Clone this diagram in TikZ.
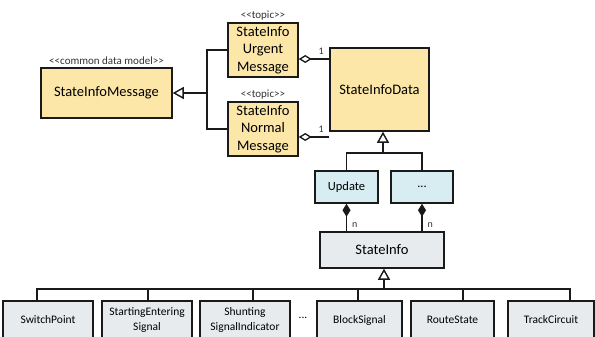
\documentclass[tikz,border=0pt]{standalone}
\usepackage{fontspec}
\setmainfont{Carlito}
\usetikzlibrary{arrows.meta}
\definecolor{classyellow}{HTML}{FCE6A8}
\definecolor{classblue}{HTML}{D8EDF1}
\definecolor{classgray}{HTML}{E8EBEE}
\definecolor{linegray}{HTML}{1A1A1A}
\tikzset{
  classbox/.style={draw=linegray, line width=1.5pt, inner sep=0pt, align=center},
  yellowbox/.style={classbox, fill=classyellow},
  bluebox/.style={classbox, fill=classblue},
  graybox/.style={classbox, fill=classgray},
  link/.style={draw=linegray, line width=1.4pt},
  stereo/.style={font=\fontsize{11}{12}\selectfont, text=black!80, inner sep=2pt},
  mult/.style={font=\fontsize{10}{10}\selectfont, text=black!80},
  bigtext/.style={font=\fontsize{14.5}{17.5}\selectfont},
  midtext/.style={font=\fontsize{12.5}{14}\selectfont},
  smalltext/.style={font=\fontsize{11.5}{15}\selectfont},
  inherit/.style={link, -{Triangle[open, length=11pt, width=12pt, line width=1.4pt]}},
  aggr/.style={link, {Diamond[open, length=13pt, width=8pt, line width=1.3pt]}-},
  compo/.style={link, {Diamond[length=13pt, width=8pt]}-}
}
\begin{document}
\begin{tikzpicture}[x=1pt, y=-1pt]
  \useasboundingbox (0,0) rectangle (595,337);
  \fill[white] (0,0) rectangle (595,337);
  \clip (0,0) rectangle (595,337);

  % message model and topics
  \node[yellowbox, bigtext, minimum width=131pt, minimum height=50pt] (msg) at (106.5,93) {StateInfoMessage};
  \node[stereo, anchor=south] at (msg.north) {<{}<common data model>{}>};
  \node[yellowbox, bigtext, minimum width=70pt, minimum height=54pt] (urg) at (263,50) {StateInfo\\Urgent\\Message};
  \node[stereo, anchor=south] at (urg.north) {<{}<topic>{}>};
  \node[yellowbox, bigtext, minimum width=70pt, minimum height=54pt] (nor) at (263,129) {StateInfo\\Normal\\Message};
  \node[stereo, anchor=south] at (nor.north) {<{}<topic>{}>};
  \node[yellowbox, bigtext, minimum width=99pt, minimum height=83pt] (data) at (379.5,89.5) {StateInfoData};

  % update kinds and state info
  \node[bluebox, midtext, minimum width=63pt, minimum height=32pt] (upd) at (346.5,187) {Update};
  \node[bluebox, midtext, minimum width=62pt, minimum height=32pt] (more) at (422,187) {...};
  \node[graybox, bigtext, minimum width=124pt, minimum height=36pt] (si) at (382,250) {StateInfo};

  % concrete state info classes
  \node[graybox, smalltext, minimum width=90pt, minimum height=38pt] (sp) at (48,320) {SwitchPoint};
  \node[graybox, smalltext, minimum width=90pt, minimum height=38pt] (se) at (147,320) {StartingEntering\\Signal};
  \node[graybox, smalltext, minimum width=90pt, minimum height=38pt] (sh) at (245,320) {Shunting\\SignalIndicator};
  \node[smalltext] (gap) at (303,318) {...};
  \node[graybox, smalltext, minimum width=85pt, minimum height=38pt] (bs) at (359.5,320) {BlockSignal};
  \node[graybox, smalltext, minimum width=83pt, minimum height=38pt] (rs) at (452.5,320) {RouteState};
  \node[graybox, smalltext, minimum width=86pt, minimum height=38pt] (tc) at (551,320) {TrackCircuit};

  % topics specialise the common data model
  \coordinate (j1) at (207,93);
  \draw[link] (urg.west) -| (j1) |- (nor.west);
  \draw[inherit] (j1) -- (msg.east);

  % topics aggregate the data
  \coordinate (ua) at ([yshift=-9pt]urg.east);
  \coordinate (na) at ([yshift=-8pt]nor.east);
  \draw[aggr] (ua) -- (ua -| data.west);
  \draw[aggr] (na) -- (na -| data.west);
  \node[mult, anchor=south east] at ([xshift=-2pt,yshift=1pt]ua -| data.west) {1};
  \node[mult, anchor=south east] at ([xshift=-2pt,yshift=1pt]na -| data.west) {1};

  % update kinds specialise the data
  \coordinate (j2) at (383,153);
  \draw[link] (upd.north) |- (j2) -| (more.north);
  \draw[inherit] (j2) -- (j2 |- data.south);

  % state info is composed into update kinds
  \draw[compo] (upd.south) -- (upd.south |- si.north);
  \draw[compo] (more.south) -- (more.south |- si.north);
  \node[mult, anchor=south west] at ([xshift=2pt]upd.south |- si.north) {n};
  \node[mult, anchor=south west] at ([xshift=2pt]more.south |- si.north) {n};

  % concrete classes specialise state info
  \coordinate (j3) at (384,289);
  \draw[inherit] (j3) -- (j3 |- si.south);
  \draw[link] ([xshift=-11pt]sp.north) |- (j3);
  \draw[link] ([xshift=1pt]se.north) |- (j3);
  \draw[link] ([xshift=8pt]sh.north) |- (j3);
  \draw[link] ([xshift=-1.5pt]bs.north) |- (j3);
  \draw[link] ([xshift=10.5pt]rs.north) |- (j3);
  \draw[link] ([xshift=19pt]tc.north) |- (j3);
\end{tikzpicture}
\end{document}
